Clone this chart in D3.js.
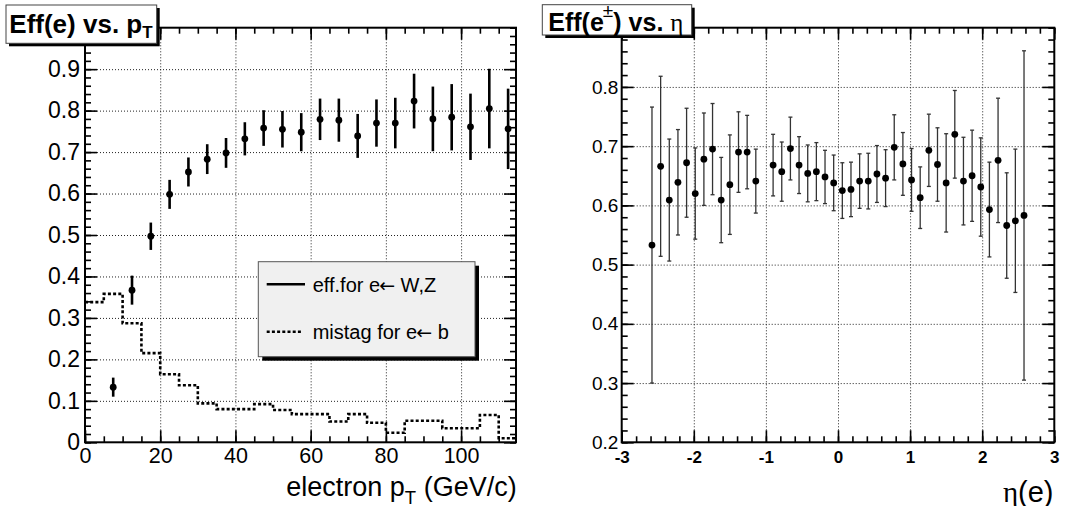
<!DOCTYPE html>
<html><head><meta charset="utf-8">
<script src="https://cdn.jsdelivr.net/npm/d3@7"></script>
<style>
body{margin:0;background:#fff}
svg{display:block}
text{font-family:"Liberation Sans",Arial,Helvetica,sans-serif;fill:#000}
</style>
</head><body>
<svg id="c" width="1065" height="506"></svg>
<script>
// ---------- data ----------
const ptCenters = [7.5,12.5,17.5,22.5,27.5,32.5,37.5,42.5,47.5,52.5,57.5,62.5,67.5,72.5,77.5,82.5,87.5,92.5,97.5,102.5,107.5,112.5];
const effPt     = [0.133,0.367,0.497,0.598,0.652,0.683,0.698,0.732,0.758,0.755,0.748,0.779,0.777,0.739,0.770,0.770,0.823,0.780,0.784,0.761,0.805,0.756];
const effPtErr  = [0.023,0.035,0.033,0.035,0.035,0.036,0.036,0.040,0.043,0.044,0.046,0.050,0.052,0.053,0.057,0.061,0.066,0.078,0.080,0.080,0.096,0.097];

const mistagEdges  = [0,5,10,15,20,25,30,35,40,45,50,55,60,65,70,75,80,85,90,95,100,105,110,115];
const mistagValues = [0.338,0.358,0.287,0.215,0.164,0.1375,0.094,0.080,0.080,0.092,0.078,0.068,0.068,0.050,0.068,0.047,0.023,0.052,0.052,0.034,0.034,0.066,0.0097];

const etaCenters = [-2.58,-2.46,-2.34,-2.22,-2.10,-1.98,-1.86,-1.74,-1.62,-1.50,-1.38,-1.26,-1.14,-0.90,-0.78,-0.66,-0.54,-0.42,-0.30,-0.18,-0.06,0.06,0.18,0.30,0.42,0.54,0.66,0.78,0.90,1.02,1.14,1.26,1.38,1.50,1.62,1.74,1.86,1.98,2.10,2.22,2.34,2.46,2.58];
const effEta     = [0.533,0.666,0.609,0.639,0.672,0.620,0.678,0.695,0.609,0.635,0.690,0.690,0.641,0.668,0.657,0.696,0.668,0.654,0.657,0.648,0.638,0.625,0.627,0.641,0.641,0.653,0.646,0.698,0.670,0.643,0.613,0.693,0.669,0.638,0.720,0.641,0.650,0.631,0.593,0.676,0.566,0.574,0.583];
const effEtaErr  = [0.233,0.152,0.103,0.089,0.092,0.077,0.078,0.077,0.072,0.084,0.068,0.062,0.054,0.052,0.050,0.053,0.048,0.048,0.049,0.045,0.047,0.047,0.046,0.046,0.047,0.048,0.048,0.055,0.053,0.053,0.052,0.061,0.062,0.083,0.074,0.074,0.077,0.083,0.080,0.105,0.089,0.121,0.278];

// tick labels
const ptTicks     = [0,20,40,60,80,100];
const effPtTicks  = [0,0.1,0.2,0.3,0.4,0.5,0.6,0.7,0.8,0.9];
const etaTicks    = [-3,-2,-1,0,1,2,3];
const effEtaTicks = [0.2,0.3,0.4,0.5,0.6,0.7,0.8];

const legendLabels = [["eff.for e", " W,Z"], ["mistag for e", " b"]];

// ---------- drawing ----------
const svg = d3.select('#c');

const xL = d3.scaleLinear().domain([0,114.6]).range([85,516]);
const yL = d3.scaleLinear().domain([0,1.0]).range([442.3,27.7]);
const xR = d3.scaleLinear().domain([-3,3]).range([621.7,1054.3]);
const yR = d3.scaleLinear().domain([0.2,0.9]).range([442.3,27.7]);

function fmt(v){ return (v===0)?'0':String(+v.toFixed(2)); }

function drawGrid(g, x, y, xg, yg){
  const [x0,x1] = x.range(), [y0,y1] = y.range();
  g.append('g').attr('transform',`translate(0,${y0})`)
    .call(d3.axisBottom(x).tickValues(xg).tickSize(-(y0-y1)).tickSizeOuter(0).tickFormat(''))
    .call(a=>{a.select('.domain').remove(); a.selectAll('line').attr('stroke','#222').attr('stroke-width',1).attr('stroke-dasharray','1,2');});
  g.append('g').attr('transform',`translate(${x0},0)`)
    .call(d3.axisLeft(y).tickValues(yg).tickSize(-(x1-x0)).tickSizeOuter(0).tickFormat(''))
    .call(a=>{a.select('.domain').remove(); a.selectAll('line').attr('stroke','#222').attr('stroke-width',1).attr('stroke-dasharray','1,2');});
}

function drawAxes(g, x, y, o){
  const [x0,x1] = x.range(), [y0,y1] = y.range();
  const style = a=>{a.select('.domain').remove(); a.selectAll('line').attr('stroke','#000').attr('stroke-width',1.6);};
  // minor ticks
  g.append('g').attr('transform',`translate(0,${y0})`).call(d3.axisBottom(x).tickValues(o.xMinor).tickSize(-6).tickSizeOuter(0).tickFormat('')).call(style);
  g.append('g').attr('transform',`translate(0,${y1})`).call(d3.axisTop(x).tickValues(o.xMinor).tickSize(-6).tickSizeOuter(0).tickFormat('')).call(style);
  g.append('g').attr('transform',`translate(${x0},0)`).call(d3.axisLeft(y).tickValues(o.yMinor).tickSize(-6).tickSizeOuter(0).tickFormat('')).call(style);
  g.append('g').attr('transform',`translate(${x1},0)`).call(d3.axisRight(y).tickValues(o.yMinor).tickSize(-6).tickSizeOuter(0).tickFormat('')).call(style);
  // major ticks
  g.append('g').attr('transform',`translate(0,${y1})`).call(d3.axisTop(x).tickValues(o.xMajor).tickSize(-12).tickSizeOuter(0).tickFormat('')).call(style);
  g.append('g').attr('transform',`translate(${x1},0)`).call(d3.axisRight(y).tickValues(o.yMajor).tickSize(-12).tickSizeOuter(0).tickFormat('')).call(style);
  g.append('g').attr('transform',`translate(0,${y0})`)
    .call(d3.axisBottom(x).tickValues(o.xMajor).tickSize(-12).tickSizeOuter(0).tickPadding(o.xPad).tickFormat(fmt))
    .call(style)
    .call(a=>a.selectAll('text').attr('font-size',o.xFont).attr('font-weight',o.xBold?'bold':'normal').attr('fill','#000')
          .attr('font-family','"Liberation Sans",Arial,Helvetica,sans-serif'));
  g.append('g').attr('transform',`translate(${x0},0)`)
    .call(d3.axisLeft(y).tickValues(o.yMajor).tickSize(-12).tickSizeOuter(0).tickPadding(o.yPad).tickFormat(fmt))
    .call(style)
    .call(a=>a.selectAll('text').attr('font-size',o.yFont).attr('fill','#000')
          .attr('font-family','"Liberation Sans",Arial,Helvetica,sans-serif'));
  // frame
  g.append('rect').attr('x',x0).attr('y',y1).attr('width',x1-x0).attr('height',y0-y1)
    .attr('fill','none').attr('stroke','#000').attr('stroke-width',2);
}

// ===== Left panel =====
const gL = svg.append('g');
drawGrid(gL, xL, yL, ptTicks.slice(1), effPtTicks.slice(1));

svg.append('defs').append('clipPath').attr('id','clipL')
  .append('rect').attr('x',85).attr('y',27.7).attr('width',431).attr('height',414.6);

// mistag step histogram
const stepPts = [];
mistagValues.forEach((v,i)=>{ stepPts.push([mistagEdges[i],v]); stepPts.push([mistagEdges[i+1],v]); });
gL.append('path').attr('clip-path','url(#clipL)')
  .attr('d', d3.line().x(d=>xL(d[0])).y(d=>yL(d[1]))(stepPts))
  .attr('fill','none').attr('stroke','#000').attr('stroke-width',2.6).attr('stroke-dasharray','3,2.2');

// efficiency points
const ptData = ptCenters.map((c,i)=>({x:c,y:effPt[i],e:effPtErr[i]}));
gL.selectAll('line.eb').data(ptData).join('line').attr('class','eb')
  .attr('x1',d=>xL(d.x)).attr('x2',d=>xL(d.x))
  .attr('y1',d=>yL(d.y-d.e)).attr('y2',d=>yL(d.y+d.e))
  .attr('stroke','#000').attr('stroke-width',2.6);
gL.selectAll('circle').data(ptData).join('circle')
  .attr('cx',d=>xL(d.x)).attr('cy',d=>yL(d.y)).attr('r',3.4).attr('fill','#000');

drawAxes(gL, xL, yL, {
  xMinor: d3.range(0,115,5), xMajor: ptTicks,
  yMinor: d3.range(0,1.001,0.02), yMajor: effPtTicks,
  xPad: 5.5, xFont: 21.5, yPad: 5, yFont: 23
});

// axis title
const tL = gL.append('text').attr('x',516.7).attr('y',495.5).attr('text-anchor','end').attr('font-size',27);
tL.append('tspan').text('electron p');
tL.append('tspan').attr('font-size',18.5).attr('dy',8).text('T');
tL.append('tspan').attr('dy',-8).text(' (GeV/c)');

// legend
const lg = gL.append('g');
lg.append('rect').attr('x',262.3).attr('y',265.7).attr('width',216.7).attr('height',95).attr('fill','#000');
lg.append('rect').attr('x',258.3).attr('y',261.7).attr('width',216.7).attr('height',95)
  .attr('fill','#f0f0f0').attr('stroke','#555').attr('stroke-width',1);
lg.append('line').attr('x1',266.7).attr('x2',305).attr('y1',284.3).attr('y2',284.3).attr('stroke','#000').attr('stroke-width',2.4);
lg.append('line').attr('x1',266.7).attr('x2',303).attr('y1',331.7).attr('y2',331.7).attr('stroke','#000').attr('stroke-width',2.4).attr('stroke-dasharray','3,2.2');
[[291.7,0],[339.3,1]].forEach(([yy,k])=>{
  const t = lg.append('text').attr('x',312.7).attr('y',yy).attr('font-size',20);
  t.append('tspan').text(legendLabels[k][0]);
  t.append('tspan').attr('font-family','"DejaVu Sans",sans-serif').attr('font-size',19).attr('dx',-1).text('\u2190');
  t.append('tspan').text(legendLabels[k][1]);
});

// title box
const tb = gL.append('g');
tb.append('rect').attr('x',9).attr('y',8).attr('width',150.7).attr('height',38.3).attr('fill','#000');
tb.append('rect').attr('x',6).attr('y',5).attr('width',150.7).attr('height',38.3).attr('fill','#fff').attr('stroke','#444').attr('stroke-width',1);
const tt = tb.append('text').attr('x',9.3).attr('y',33.3).attr('font-size',26).attr('font-weight','bold');
tt.append('tspan').text('Eff(e) vs. p');
tt.append('tspan').attr('font-size',17).attr('dy',5).text('T');

// ===== Right panel =====
const gR = svg.append('g');
drawGrid(gR, xR, yR, etaTicks.slice(1,-1), effEtaTicks.slice(1));

const etaData = etaCenters.map((c,i)=>({x:c,y:effEta[i],e:effEtaErr[i]}));
const eb = gR.selectAll('g.eb').data(etaData).join('g').attr('class','eb');
eb.append('line').attr('x1',d=>xR(d.x)).attr('x2',d=>xR(d.x))
  .attr('y1',d=>yR(d.y-d.e)).attr('y2',d=>yR(d.y+d.e))
  .attr('stroke','#333').attr('stroke-width',1.3);
eb.append('line').attr('x1',d=>xR(d.x)-2).attr('x2',d=>xR(d.x)+2)
  .attr('y1',d=>yR(d.y+d.e)).attr('y2',d=>yR(d.y+d.e)).attr('stroke','#333').attr('stroke-width',1.3);
eb.append('line').attr('x1',d=>xR(d.x)-2).attr('x2',d=>xR(d.x)+2)
  .attr('y1',d=>yR(d.y-d.e)).attr('y2',d=>yR(d.y-d.e)).attr('stroke','#333').attr('stroke-width',1.3);
gR.selectAll('circle').data(etaData).join('circle')
  .attr('cx',d=>xR(d.x)).attr('cy',d=>yR(d.y)).attr('r',3.4).attr('fill','#000');

drawAxes(gR, xR, yR, {
  xMinor: d3.range(-3,3.001,0.2), xMajor: etaTicks,
  yMinor: d3.range(0.2,0.9001,0.02), yMajor: effEtaTicks,
  xPad: 8.3, xFont: 17, xBold: true, yPad: 3.4, yFont: 19
});

// axis title
const tR = gR.append('text').attr('x',1053.5).attr('y',501.5).attr('text-anchor','end').attr('font-size',29);
tR.append('tspan').attr('font-family','"Liberation Serif","Times New Roman",serif').text('\u03b7');
tR.append('tspan').text('(e)');

// title box
const tb2 = gR.append('g');
tb2.append('rect').attr('x',545.3).attr('y',7.7).attr('width',149.4).attr('height',30.3).attr('fill','#000');
tb2.append('rect').attr('x',542.3).attr('y',4.7).attr('width',149.4).attr('height',30.3).attr('fill','#fff').attr('stroke','#444').attr('stroke-width',1);
const tt2 = tb2.append('text').attr('x',548.3).attr('y',31).attr('font-size',25).attr('font-weight','bold');
tt2.append('tspan').text('Eff(e');
tt2.append('tspan').attr('font-size',19).attr('font-weight','normal').attr('dx',-1).attr('dy',-14).text('\u00b1');
tt2.append('tspan').attr('dy',14).text(') vs. ');
tt2.append('tspan').attr('font-weight','normal').attr('font-family','"Liberation Serif","Times New Roman",serif').text('\u03b7');
</script>
</body></html>
